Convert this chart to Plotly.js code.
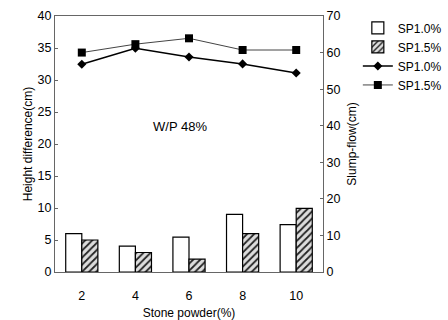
<!DOCTYPE html>
<html><head><meta charset="utf-8">
<script src="https://cdn.plot.ly/plotly-3.0.1.min.js"></script>
<style>html,body{margin:0;padding:0;background:#fff}#c{width:448px;height:320px}</style>
</head><body><div id="c"></div>
<script>
const categories = ["2","4","6","8","10"];
const heightSP10 = [6.0, 4.05, 5.45, 9.0, 7.4];
const heightSP15 = [5.0, 3.05, 2.0, 6.0, 9.95];
const slumpSP10 = [56.8, 61.2, 58.8, 56.9, 54.4];
const slumpSP15 = [60.0, 62.3, 63.9, 60.7, 60.7];
const leftTicks = [0,5,10,15,20,25,30,35,40];
const rightTicks = [0,10,20,30,40,50,60,70];

const F = "Liberation Sans, Arial, sans-serif";
const traces = [
  {type:"bar", name:"SP1.0%", x:categories, y:heightSP10,
   marker:{color:"#fff", line:{color:"#000", width:1.2}}},
  {type:"bar", name:"SP1.5%", x:categories, y:heightSP15,
   marker:{color:"#fff", line:{color:"#000", width:1.2},
     pattern:{shape:"/", fgcolor:"#222", bgcolor:"#ddd", size:5, solidity:0.35}}},
  {type:"scatter", mode:"lines+markers", name:"SP1.0%", x:categories, y:slumpSP10, yaxis:"y2",
   line:{color:"#000", width:1.5}, marker:{symbol:"diamond", size:7, color:"#000"}},
  {type:"scatter", mode:"lines+markers", name:"SP1.5%", x:categories, y:slumpSP15, yaxis:"y2",
   line:{color:"#444", width:1}, marker:{symbol:"square", size:8, color:"#000"}}
];
const layout = {
  width:448, height:320,
  margin:{l:55, r:125, t:16, b:48, autoexpand:false},
  paper_bgcolor:"#fff", plot_bgcolor:"#fff",
  font:{family:F, size:12, color:"#000"},
  showlegend:true,
  barmode:"group", bargap:0.4, bargroupgap:0,
  xaxis:{type:"category", range:[-0.5,4.5], showline:true, linecolor:"#666", linewidth:1,
    mirror:true, ticks:"", tickfont:{size:12.5}, ticklabelstandoff:12, showgrid:false, zeroline:false,
    title:{text:"Stone powder(%)", font:{size:12}, standoff:6}},
  yaxis:{range:[0,40], tickvals:leftTicks, showline:true, linecolor:"#666", linewidth:1,
    ticks:"inside", ticklen:3, tickcolor:"#666", showgrid:false, zeroline:false,
    tickfont:{size:12.5},
    title:{text:"Height difference(cm)", font:{size:12}, standoff:2}},
  yaxis2:{range:[0,70], tickvals:rightTicks, overlaying:"y", side:"right", showline:true,
    linecolor:"#666", linewidth:1, ticks:"inside", ticklen:3, tickcolor:"#666",
    showgrid:false, zeroline:false, tickfont:{size:12.5},
    title:{text:"Slump-flow(cm)", font:{size:12}, standoff:8}},
  legend:{x:1.13, y:1.01, xanchor:"left", yanchor:"top", bgcolor:"rgba(0,0,0,0)",
    font:{size:12}, tracegroupgap:0, traceorder:"normal", itemwidth:30},
  annotations:[{text:"W/P 48%", xref:"paper", yref:"paper", x:0.466, y:0.57,
    showarrow:false, font:{size:13}}]
};
Plotly.newPlot("c", traces, layout, {staticPlot:true});
</script></body></html>
